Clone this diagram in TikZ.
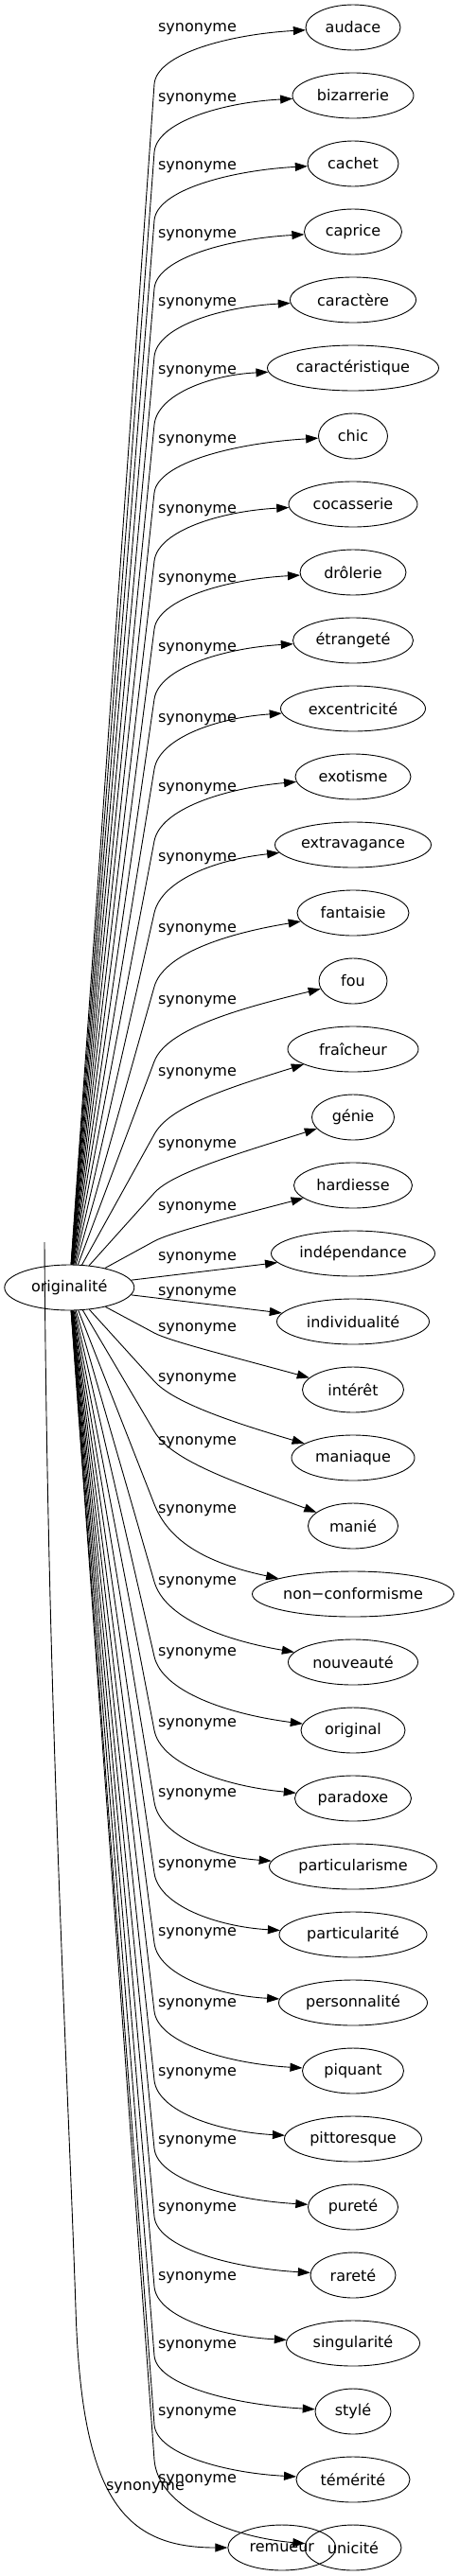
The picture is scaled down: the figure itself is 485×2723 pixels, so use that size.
\documentclass[tikz,border=0pt]{standalone}
\usepackage{fontspec}
\setmainfont{DejaVu Sans}
\usetikzlibrary{arrows.meta,shapes.geometric}
\begin{document}
\begin{tikzpicture}[x=1pt,y=-1pt,line join=round,font=\fontsize{16}{19}\selectfont,
		mot/.style={draw,ellipse,inner sep=0pt,minimum height=48pt,line width=0.9pt},
		rel/.style={inner sep=0pt},
		syn/.style={-{Triangle[length=13pt,width=9pt]},line width=0.9pt}]
	\useasboundingbox (0,0) rectangle (485,2723);
	\node[mot,minimum width=137pt] (originalite) at (73.3,1361) {originalité};
	% nom/texte/largeur/coude/etiquette/pente
	\foreach \nm/\txt/\wdt/\voff/\loff/\fct [count=\k from 0] in {
			audace/audace/100/60/2/12,
			bizarrerie/bizarrerie/128/60/4/12,
			cachet/cachet/96/60/4/12,
			caprice/caprice/103/60/4/12,
			caractere/caractère/133/60/4/12,
			caracteristique/caractéristique/181/60/4/12,
			chic/chic/73/60/5/12,
			cocasserie/cocasserie/136/60/7/12,
			drolerie/drôlerie/112/60/8/12,
			etrangete/étrangeté/127/62/9/13,
			excentricite/excentricité/153/64/12/15,
			exotisme/exotisme/122/68/13/18,
			extravagance/extravagance/165/72/15/22,
			fantaisie/fantaisie/118/78/18/28,
			fou/fou/72/85/22/35,
			fraicheur/fraîcheur/138/90/26/48,
			genie/génie/87/80/30/50,
			hardiesse/hardiesse/125/59/24/60,
			independance/indépendance/173/0/5/0,
			individualite/individualité/161/0/-30/0,
			interet/intérêt/107/-60/-64/60,
			maniaque/maniaque/130/-81/-83/50,
			manie/manié/95/-100/-88/48,
			nonconformisme/non−conformisme/213/-95/-88/35,
			nouveaute/nouveauté/137/-85/-84/28,
			original/original/110/-78/-81/22,
			paradoxe/paradoxe/123/-72/-78/18,
			particularisme/particularisme/177/-68/-76/15,
			particularite/particularité/156/-65/-73/13,
			personnalite/personnalité/157/-63/-73/12,
			piquant/piquant/107/-63/-70/12,
			pittoresque/pittoresque/145/-62/-69/12,
			purete/pureté/95/-62/-69/12,
			rarete/rareté/90/-62/-70/12,
			singularite/singularité/141/-60/-69/12,
			styl/stylé/80/-59/-69/12,
			temerite/témérité/120/-58/-70/12,
			unicite/unicité/102/-93/-71/12}{
		\pgfmathsetmacro\ty{29+72*\k}
		\node[mot,minimum width=\wdt pt] (\nm) at (373,\ty) {\txt};
		\node[rel] (r-\nm) at (208.5,{\ty+(\loff)}) {synonyme};
		\ifnum\voff=0
			\draw[syn] (originalite) -- (\nm);
		\else
			\pgfmathsetmacro\vy{\ty+(\voff)}
			\pgfmathsetmacro\vlen{100*veclen(0.897,(\vy-1361)/100)}
			\pgfmathsetmacro\dd{(0.6-0.005*\fct)*abs(\voff)}
			\pgfmathsetmacro\ax{163+\dd*(89.7/\vlen)}
			\pgfmathsetmacro\ay{\vy+\dd*((\vy-1361)/\vlen)}
			\pgfmathsetmacro\bx{(163+373-\wdt/2)/2}
			\pgfmathsetmacro\by{\ty+0.01*\fct*(\voff)}
			\coordinate (v-\nm) at (163,\vy);
			\draw[syn] (originalite) -- (v-\nm) .. controls (\ax,\ay) and (\bx,\by) .. (\nm);
		\fi
	}
	\node[mot,minimum width=114pt] (remueur) at (297.8,2693) {remueur};
	\node[rel] (r-remueur) at (153.5,2630) {synonyme};
	\coordinate (queue) at (47,1313);
	\draw[syn] (queue) .. controls (50,1800) and (72,2200) .. (80,2440) .. controls (86,2640) and (130,2693) .. (remueur);
\end{tikzpicture}
\end{document}
